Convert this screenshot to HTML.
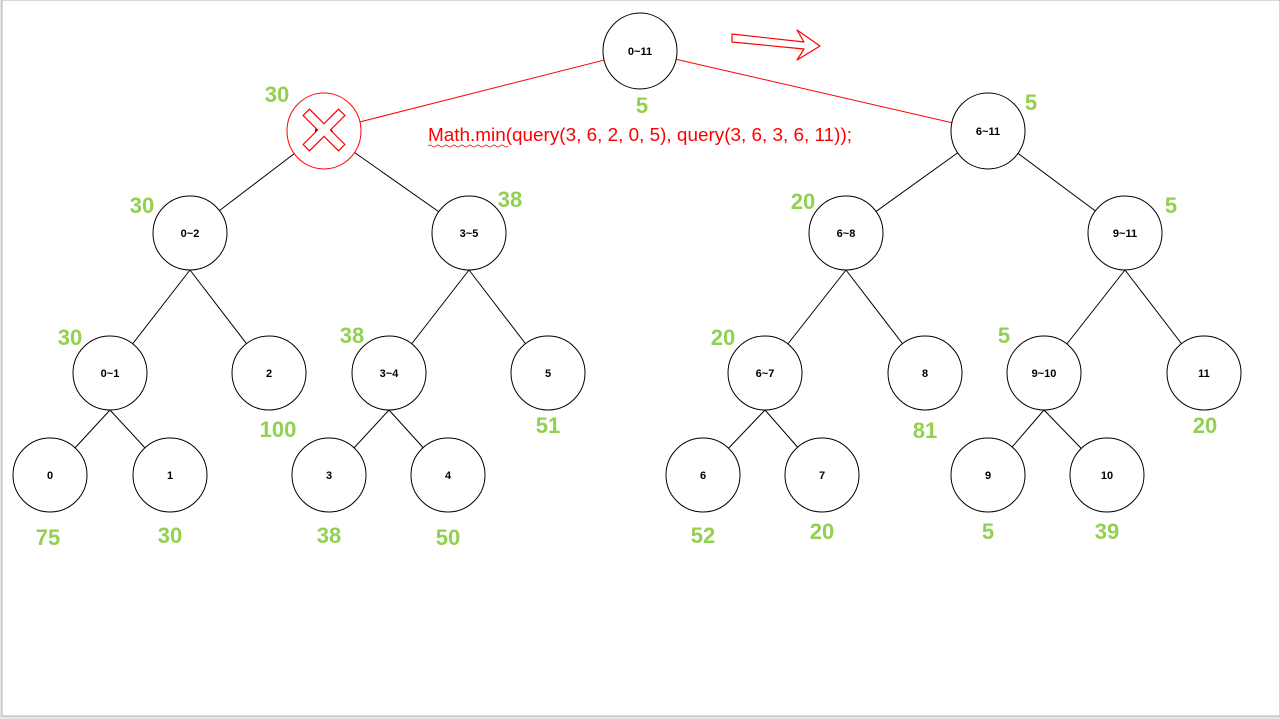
<!DOCTYPE html><html><head><style>body{margin:0;background:#fff}svg{display:block}</style></head><body>
<svg width="1280" height="719" viewBox="0 0 1280 719" xmlns="http://www.w3.org/2000/svg" font-family="Liberation Sans, sans-serif">
<rect x="0" y="0" width="1280" height="719" fill="#e6e6e6"/>
<rect x="2" y="0" width="1278" height="716" fill="#fff" stroke="#b0b0b0" stroke-width="1"/>
<g stroke="#000" stroke-width="1">
<line x1="324" y1="131" x2="190" y2="233"/><line x1="324" y1="131" x2="469" y2="233"/>
<line x1="988" y1="131" x2="846" y2="233"/><line x1="988" y1="131" x2="1125" y2="233"/>
<line x1="190" y1="270" x2="110" y2="373"/><line x1="190" y1="270" x2="269" y2="373"/>
<line x1="469" y1="270" x2="389" y2="373"/><line x1="469" y1="270" x2="548" y2="373"/>
<line x1="846" y1="270" x2="765" y2="373"/><line x1="846" y1="270" x2="925" y2="373"/>
<line x1="1125" y1="270" x2="1044" y2="373"/><line x1="1125" y1="270" x2="1204" y2="373"/>
<line x1="110" y1="410" x2="50" y2="475"/><line x1="110" y1="410" x2="170" y2="475"/>
<line x1="389" y1="410" x2="329" y2="475"/><line x1="389" y1="410" x2="448" y2="475"/>
<line x1="765" y1="410" x2="703" y2="475"/><line x1="765" y1="410" x2="822" y2="475"/>
<line x1="1044" y1="410" x2="988" y2="475"/><line x1="1044" y1="410" x2="1107" y2="475"/>
</g>
<g stroke="#f00" stroke-width="1">
<line x1="640" y1="51" x2="324" y2="131"/><line x1="640" y1="51" x2="988" y2="131"/>
</g>
<g fill="#fff" stroke="#000" stroke-width="1">
<ellipse cx="640" cy="51" rx="37" ry="38"/>
<ellipse cx="988" cy="131" rx="37" ry="38"/>
<ellipse cx="190" cy="233" rx="37" ry="37"/><ellipse cx="469" cy="233" rx="37" ry="37"/>
<ellipse cx="846" cy="233" rx="37" ry="37"/><ellipse cx="1125" cy="233" rx="37" ry="37"/>
<ellipse cx="110" cy="373" rx="37" ry="37"/><ellipse cx="269" cy="373" rx="37" ry="37"/>
<ellipse cx="389" cy="373" rx="37" ry="37"/><ellipse cx="548" cy="373" rx="37" ry="37"/>
<ellipse cx="765" cy="373" rx="37" ry="37"/><ellipse cx="925" cy="373" rx="37" ry="37"/>
<ellipse cx="1044" cy="373" rx="37" ry="37"/><ellipse cx="1204" cy="373" rx="37" ry="37"/>
<ellipse cx="50" cy="475" rx="37" ry="37"/><ellipse cx="170" cy="475" rx="37" ry="37"/>
<ellipse cx="329" cy="475" rx="37" ry="37"/><ellipse cx="448" cy="475" rx="37" ry="37"/>
<ellipse cx="703" cy="475" rx="37" ry="37"/><ellipse cx="822" cy="475" rx="37" ry="37"/>
<ellipse cx="988" cy="475" rx="37" ry="37"/><ellipse cx="1107" cy="475" rx="37" ry="37"/>
</g>
<ellipse cx="324" cy="131" rx="37" ry="38" fill="#fff" stroke="#f00" stroke-width="1"/>
<g font-size="11" font-weight="bold" text-anchor="middle" fill="#000">
<text x="640" y="55">0~11</text><text x="988" y="135">6~11</text><text x="324" y="135">0~5</text>
<text x="190" y="237">0~2</text><text x="469" y="237">3~5</text><text x="846" y="237">6~8</text><text x="1125" y="237">9~11</text>
<text x="110" y="377">0~1</text><text x="269" y="377">2</text><text x="389" y="377">3~4</text><text x="548" y="377">5</text>
<text x="765" y="377">6~7</text><text x="925" y="377">8</text><text x="1044" y="377">9~10</text><text x="1204" y="377">11</text>
<text x="50" y="479">0</text><text x="170" y="479">1</text><text x="329" y="479">3</text><text x="448" y="479">4</text>
<text x="703" y="479">6</text><text x="822" y="479">7</text><text x="988" y="479">9</text><text x="1107" y="479">10</text>
</g>
<g transform="translate(324,130) rotate(45)" fill="#fff" stroke="#f00" stroke-width="1.2">
<path d="M-4.5,-25 H4.5 V-4.5 H25 V4.5 H4.5 V25 H-4.5 V4.5 H-25 V-4.5 H-4.5 Z"/>
</g>
<path d="M732,34 L804,42 L797,30 L820,46 L797,60 L804,49 L732,42 Z" fill="#fff" stroke="#f00" stroke-width="1.2" stroke-linejoin="round"/>
<text x="428" y="141" font-size="18" fill="#f00" textLength="424" lengthAdjust="spacingAndGlyphs">Math.min(query(3, 6, 2, 0, 5), query(3, 6, 3, 6, 11));</text>
<path d="M428,146 q2,-2 4,0 t4,0 t4,0 t4,0 t4,0 t4,0 t4,0 t4,0 t4,0 t4,0 t4,0 t4,0 t4,0 t4,0 t4,0 t4,0 t4,0 t4,0 t4,0 t4,0" fill="none" stroke="#f00" stroke-width="0.7"/>
<g font-size="22" font-weight="bold" fill="#92d050" text-anchor="middle">
<text x="642" y="113">5</text><text x="277" y="102">30</text><text x="1031" y="110">5</text>
<text x="142" y="213">30</text><text x="510" y="207">38</text><text x="803" y="209">20</text><text x="1171" y="213">5</text>
<text x="70" y="345">30</text><text x="352" y="343">38</text><text x="723" y="345">20</text><text x="1004" y="343">5</text>
<text x="278" y="437">100</text><text x="548" y="433">51</text><text x="925" y="438">81</text><text x="1205" y="433">20</text>
<text x="48" y="545">75</text><text x="170" y="543">30</text><text x="329" y="543">38</text><text x="448" y="545">50</text>
<text x="703" y="543">52</text><text x="822" y="539">20</text><text x="988" y="539">5</text><text x="1107" y="539">39</text>
</g>
</svg></body></html>
